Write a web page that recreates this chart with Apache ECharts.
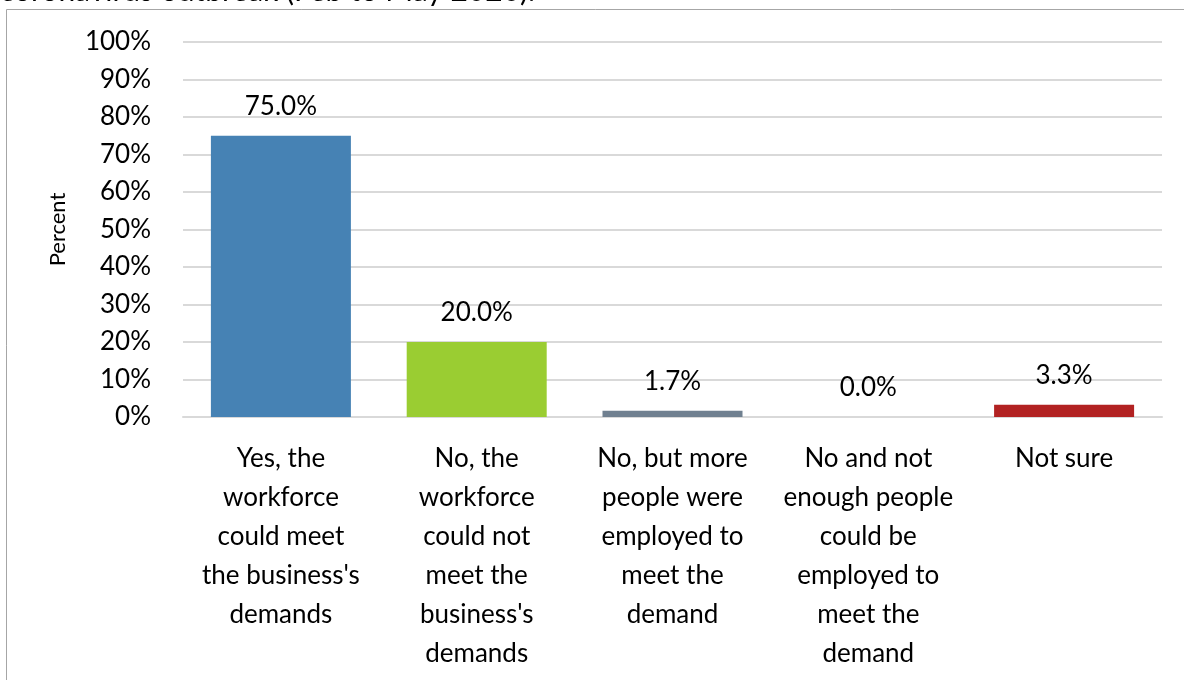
<!DOCTYPE html>
<html>
<head>
<meta charset="utf-8">
<script src="https://cdn.jsdelivr.net/npm/echarts@6/dist/echarts.min.js"></script>
<style>html,body{margin:0;padding:0;background:#fff;}#chart{width:1184px;height:680px;}</style>
</head>
<body>
<div id="chart"></div>
<script>
const titleText = 'coronavirus outbreak (Feb to May 2020).';
const categories = [
  'Yes, the\nworkforce\ncould meet\nthe business\'s\ndemands',
  'No, the\nworkforce\ncould not\nmeet the\nbusiness\'s\ndemands',
  'No, but more\npeople were\nemployed to\nmeet the\ndemand',
  'No and not\nenough people\ncould be\nemployed to\nmeet the\ndemand',
  'Not sure'
];
const values = [75.0, 20.0, 1.7, 0.0, 3.3];
const barColors = ['#4682B4', '#9ACD32', '#708090', '#DAA520', '#B22222'];
const yTicks = [0, 10, 20, 30, 40, 50, 60, 70, 80, 90, 100];
const yAxisName = 'Percent';

const FONT = 'Lato';
const chart = echarts.init(document.getElementById('chart'), null, {renderer: 'canvas'});
chart.setOption({
  animation: false,
  backgroundColor: '#ffffff',
  graphic: [
    {type: 'rect', shape: {x: 6.5, y: 9.5, width: 1300, height: 800}, style: {fill: 'none', stroke: '#a6a6a6', lineWidth: 1}, silent: true},
    {type: 'text', x: 0, y: 6, style: {text: titleText, font: '30px Lato', fill: '#000', verticalAlign: 'bottom', align: 'left'}}
  ],
  grid: {left: 183, right: 22, top: 42, bottom: 263, containLabel: false},
  xAxis: {
    type: 'category',
    data: categories,
    axisLine: {show: true, lineStyle: {color: '#d9d9d9', width: 2}},
    axisTick: {show: false},
    axisLabel: {
      interval: 0, color: '#000', fontFamily: FONT, fontSize: 26, lineHeight: 39, margin: 22
    }
  },
  yAxis: {
    type: 'value',
    min: 0, max: 100, interval: 10,
    name: yAxisName,
    nameLocation: 'middle',
    nameGap: 114,
    nameRotate: 90,
    nameTextStyle: {color: '#000', fontFamily: FONT, fontSize: 22},
    axisLine: {show: false},
    axisTick: {show: false},
    splitLine: {show: true, lineStyle: {color: '#d9d9d9', width: 2}},
    axisLabel: {
      color: '#000', fontFamily: FONT, fontSize: 26, margin: 32,
      customValues: yTicks,
      formatter: v => v + '%'
    }
  },
  series: [{
    type: 'bar',
    data: values.map((v, i) => ({value: v, itemStyle: {color: barColors[i]}})),
    barWidth: 140,
    label: {
      show: true, position: 'top', distance: 16,
      color: '#000', fontFamily: FONT, fontSize: 26,
      formatter: p => p.value.toFixed(1) + '%'
    }
  }]
});
</script>
</body>
</html>
